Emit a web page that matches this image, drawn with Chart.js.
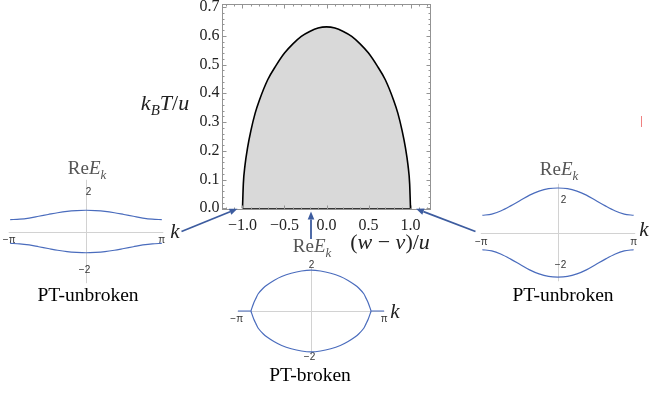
<!DOCTYPE html>
<html><head><meta charset="utf-8">
<script src="https://cdn.jsdelivr.net/npm/chart.js@4.4.1/dist/chart.umd.min.js"></script>
<style>
html,body{margin:0;padding:0;background:#fff;}
#wrap{position:relative;width:649px;height:393px;overflow:hidden;font-family:"Liberation Serif","Times New Roman",serif;}
canvas{position:absolute;left:0;top:0;}
.t{position:absolute;white-space:nowrap;transform:translate(-50%,-50%);line-height:1;}
.sub{font-size:0.68em;vertical-align:-0.32em;}
.re{font-size:19px;color:#555;}
.kk{font-size:21px;font-style:italic;color:#222;}
.pt{font-size:19.5px;color:#000;}
</style></head>
<body><div id="wrap">
<canvas id="main" width="649" height="393"></canvas>
<canvas id="inL" width="649" height="393"></canvas>
<canvas id="inM" width="649" height="393"></canvas>
<canvas id="inR" width="649" height="393"></canvas>

<div class="t" style="left:165px;top:105px;font-size:22px;color:#222"><i>k</i><span class="sub"><i>B</i></span><i>T</i>/<i>u</i></div>
<div class="t" style="left:390px;top:242px;font-size:22px;color:#222">(<i>w</i> − <i>v</i>)/<i>u</i></div>

<div class="t re" style="left:87px;top:170px">Re<i>E</i><span class="sub"><i>k</i></span></div>
<div class="t kk" style="left:175px;top:231px">k</div>
<div class="t pt" style="left:88px;top:295px">PT-unbroken</div>

<div class="t re" style="left:312px;top:248px">Re<i>E</i><span class="sub"><i>k</i></span></div>
<div class="t kk" style="left:395px;top:311px">k</div>
<div class="t pt" style="left:310px;top:375px">PT-broken</div>

<div class="t re" style="left:559px;top:171px">Re<i>E</i><span class="sub"><i>k</i></span></div>
<div class="t kk" style="left:644px;top:229px">k</div>
<div class="t pt" style="left:563px;top:295px">PT-unbroken</div>

<div style="position:absolute;left:641px;top:116px;width:1px;height:11px;background:#f08080"></div>
</div>
<script>
// ---------- data ----------
// phase boundary: (w - v)/u  vs  k_B T / u
const phaseX = [-1, -0.99, -0.97, -0.94, -0.9, -0.85, -0.8, -0.7, -0.6, -0.5, -0.4, -0.3, -0.2, -0.1, 0, 0.1, 0.2, 0.3, 0.4, 0.5, 0.6, 0.7, 0.8, 0.85, 0.9, 0.94, 0.97, 0.99, 1];
const phaseT = [0, 0.085, 0.15, 0.21, 0.27, 0.33, 0.375, 0.447, 0.497, 0.540, 0.572, 0.598, 0.615, 0.627, 0.631, 0.627, 0.615, 0.598, 0.572, 0.540, 0.497, 0.447, 0.375, 0.33, 0.27, 0.21, 0.15, 0.085, 0];
const mainXTicks = [-1, -0.5, 0, 0.5, 1];
const mainYTicks = [0, 0.1, 0.2, 0.3, 0.4, 0.5, 0.6, 0.7];

// insets: k in units of pi
const kBand = [-1, -0.875, -0.75, -0.625, -0.5, -0.375, -0.25, -0.125, 0, 0.125, 0.25, 0.375, 0.5, 0.625, 0.75, 0.875, 1];
const leftUpper = [0.61, 0.63, 0.69, 0.78, 0.87, 0.96, 1.03, 1.07, 1.09, 1.07, 1.03, 0.96, 0.87, 0.78, 0.69, 0.63, 0.61];
const leftLower = [-0.61, -0.63, -0.69, -0.78, -0.87, -0.96, -1.03, -1.07, -1.09, -1.07, -1.03, -0.96, -0.87, -0.78, -0.69, -0.63, -0.61];
const rightUpper = [1.06, 1.13, 1.34, 1.64, 1.97, 2.3, 2.55, 2.7, 2.74, 2.7, 2.55, 2.3, 1.97, 1.64, 1.34, 1.13, 1.06];
const rightLower = [-1.06, -1.13, -1.34, -1.64, -1.97, -2.3, -2.55, -2.7, -2.74, -2.7, -2.55, -2.3, -1.97, -1.64, -1.34, -1.13, -1.06];
const kLoop = [-0.82, -0.78, -0.75, -0.72, -0.65, -0.6, -0.5, -0.4, -0.27, -0.13, 0, 0.13, 0.27, 0.4, 0.5, 0.6, 0.65, 0.72, 0.75, 0.78, 0.82];
const loopUpper = [0, 0.36, 0.56, 0.75, 1.0, 1.13, 1.34, 1.5, 1.64, 1.74, 1.78, 1.74, 1.64, 1.5, 1.34, 1.13, 1.0, 0.75, 0.56, 0.36, 0];
const loopLower = [0, -0.36, -0.56, -0.75, -1.0, -1.13, -1.34, -1.5, -1.64, -1.74, -1.78, -1.74, -1.64, -1.5, -1.34, -1.13, -1.0, -0.75, -0.56, -0.36, 0];
const kFlatLeft = [-1, -0.82];
const kFlatRight = [0.82, 1];
const flatZero = [0, 0];
const insetXTicks = [-1, 1];
const insetXLabels = ['−π', 'π'];
const insetYTicks = [2, -2];
const insetYLabels = ['2', '−2'];

// ---------- helpers ----------
const W = 649, H = 393;
const pts = (xs, ys) => xs.map((x, i) => ({x, y: ys[i]}));
const fmt1 = v => (v < 0 ? '−' : '') + Math.abs(v).toFixed(1);
const BLUE = '#4a6cbd';
const ARROW = '#3d5c9f';

function arrow(ctx, x0, y0, x1, y1) {
  const a = Math.atan2(y1 - y0, x1 - x0), L = 8, Wd = 3.3;
  const bx = x1 - L * Math.cos(a), by = y1 - L * Math.sin(a);
  ctx.save();
  ctx.strokeStyle = ARROW; ctx.fillStyle = ARROW; ctx.lineWidth = 1.8;
  ctx.beginPath(); ctx.moveTo(x0, y0); ctx.lineTo(bx, by); ctx.stroke();
  ctx.beginPath(); ctx.moveTo(x1, y1);
  ctx.lineTo(bx + Wd * Math.sin(a), by - Wd * Math.cos(a));
  ctx.lineTo(bx - Wd * Math.sin(a), by + Wd * Math.cos(a));
  ctx.closePath(); ctx.fill();
  ctx.restore();
}

// ---------- main chart ----------
const frame = {
  id: 'frame',
  afterDatasetsDraw(c) {
    const {ctx, chartArea: a} = c, xs = c.scales.x, ys = c.scales.y;
    ctx.save();
    ctx.strokeStyle = '#939393'; ctx.lineWidth = 1;
    ctx.strokeRect(a.left + 0.5, a.top + 0.5, a.right - a.left - 1, a.bottom - a.top - 1);
    ctx.beginPath();
    for (let i = -12; i <= 12; i++) {
      const v = i / 10, px = Math.round(xs.getPixelForValue(v)) + 0.5;
      const len = (i % 5 === 0) ? 4.5 : 2.5;
      ctx.moveTo(px, a.bottom); ctx.lineTo(px, a.bottom - len);
      ctx.moveTo(px, a.top); ctx.lineTo(px, a.top + len);
    }
    for (let i = 0; i <= 35; i++) {
      const v = i / 50, py = Math.round(ys.getPixelForValue(v)) + 0.5;
      const len = (i % 5 === 0) ? 4.5 : 2.5;
      ctx.moveTo(a.left, py); ctx.lineTo(a.left + len, py);
      ctx.moveTo(a.right, py); ctx.lineTo(a.right - len, py);
    }
    ctx.stroke();
    ctx.restore();
    // arrows from insets to the phase diagram
    const y0 = ys.getPixelForValue(0);
    arrow(ctx, 181.5, 231.5, xs.getPixelForValue(phaseX[0]) - 5, y0 + 0.5);
    arrow(ctx, 311, 239, 311, 211.5);
    arrow(ctx, 475.5, 231.5, xs.getPixelForValue(phaseX[phaseX.length - 1]) + 5.5, y0 + 0.5);
  }
};

new Chart(document.getElementById('main'), {
  type: 'scatter',
  data: {datasets: [
    {data: pts(phaseX, phaseT), showLine: true, fill: 'origin', backgroundColor: '#d9d9d9',
     borderColor: '#000', borderWidth: 1.6, pointRadius: 0, cubicInterpolationMode: 'monotone'},
    {data: [{x: phaseX[0], y: 0}, {x: phaseX[phaseX.length - 1], y: 0}], showLine: true,
     borderColor: '#000', borderWidth: 1.6, pointRadius: 0}
  ]},
  options: {
    responsive: false, animation: false, events: [],
    plugins: {legend: {display: false}, tooltip: {enabled: false}},
    layout: {padding: {left: 222 - 40, top: 4, right: W - 431, bottom: H - 210 - 30}},
    scales: {
      x: {type: 'linear', min: -1.244, max: 1.244,
        afterBuildTicks(s) { s.ticks = mainXTicks.map(v => ({value: v})); },
        afterFit(s) { s.height = 30; s.paddingLeft = 0; s.paddingRight = 0; },
        grid: {display: false, drawTicks: false}, border: {display: false},
        ticks: {padding: 6, color: '#222', font: {family: 'Liberation Serif', size: 16},
                maxRotation: 0, autoSkip: false, callback: v => fmt1(v)}},
      y: {type: 'linear', min: -0.006, max: 0.7105,
        afterBuildTicks(s) { s.ticks = mainYTicks.map(v => ({value: v})); },
        afterFit(s) { s.width = 40; s.paddingTop = 0; s.paddingBottom = 0; },
        grid: {display: false, drawTicks: false}, border: {display: false},
        ticks: {padding: 2.5, color: '#222', font: {family: 'Liberation Serif', size: 16},
                autoSkip: false, callback: v => fmt1(v)}}
    }
  },
  plugins: [frame]
});

// ---------- insets ----------
function inset(id, box, xr, yr, sets, xLabDy, yLabDx) {
  const axes = {
    id: 'insetAxes',
    beforeDatasetsDraw(c) {
      const {ctx, chartArea: a} = c, xs = c.scales.x, ys = c.scales.y;
      const ox = Math.round(xs.getPixelForValue(0)) + 0.5, oy = Math.round(ys.getPixelForValue(0)) + 0.5;
      ctx.save();
      ctx.strokeStyle = '#d2d2d2'; ctx.lineWidth = 1;
      ctx.beginPath();
      ctx.moveTo(a.left, oy); ctx.lineTo(a.right, oy);
      ctx.moveTo(ox, a.top); ctx.lineTo(ox, a.bottom);
      ctx.stroke();
      ctx.fillStyle = '#333';
      ctx.font = '10px "Liberation Sans", Arial, sans-serif';
      ctx.textAlign = 'center'; ctx.textBaseline = 'middle';
      insetXTicks.forEach((v, i) => ctx.fillText(insetXLabels[i], xs.getPixelForValue(v) + (v < 0 ? -1 : 0), oy + xLabDy));
      insetYTicks.forEach((v, i) => ctx.fillText(insetYLabels[i], ox + yLabDx[i], ys.getPixelForValue(v)));
      ctx.restore();
    }
  };
  new Chart(document.getElementById(id), {
    type: 'scatter',
    data: {datasets: sets.map(s => ({data: s.d, showLine: true, fill: false, borderColor: BLUE,
      borderWidth: 1.2, pointRadius: 0, tension: s.t}))},
    options: {
      responsive: false, animation: false, events: [],
      plugins: {legend: {display: false}, tooltip: {enabled: false}},
      layout: {padding: {left: box.l, top: box.t, right: W - box.r, bottom: H - box.b}},
      scales: {x: {display: false, type: 'linear', min: xr[0], max: xr[1]},
               y: {display: false, type: 'linear', min: yr[0], max: yr[1]}}
    },
    plugins: [axes]
  });
}

inset('inL', {l: 8.7, r: 163.3, t: 179.8, b: 283.2}, [-1.02, 1.02], [-2.65, 2.65],
  [{d: pts(kBand, leftUpper), t: 0.3}, {d: pts(kBand, leftLower), t: 0.3}], 8, [2, -2]);

inset('inM', {l: 237.7, r: 384.3, t: 267.3, b: 354.7}, [-1, 1], [-1.9, 1.9],
  [{d: pts(kLoop, loopUpper), t: 0.25}, {d: pts(kLoop, loopLower), t: 0.25},
   {d: pts(kFlatLeft, flatZero), t: 0}, {d: pts(kFlatRight, flatZero), t: 0}], 7.5, [0, -2]);

inset('inR', {l: 480.8, r: 635.2, t: 183.75, b: 281.25}, [-1.02, 1.02], [-3, 3],
  [{d: pts(kBand, rightUpper), t: 0.3}, {d: pts(kBand, rightLower), t: 0.3}], 8.5, [5, 2]);
</script>
</body></html>
